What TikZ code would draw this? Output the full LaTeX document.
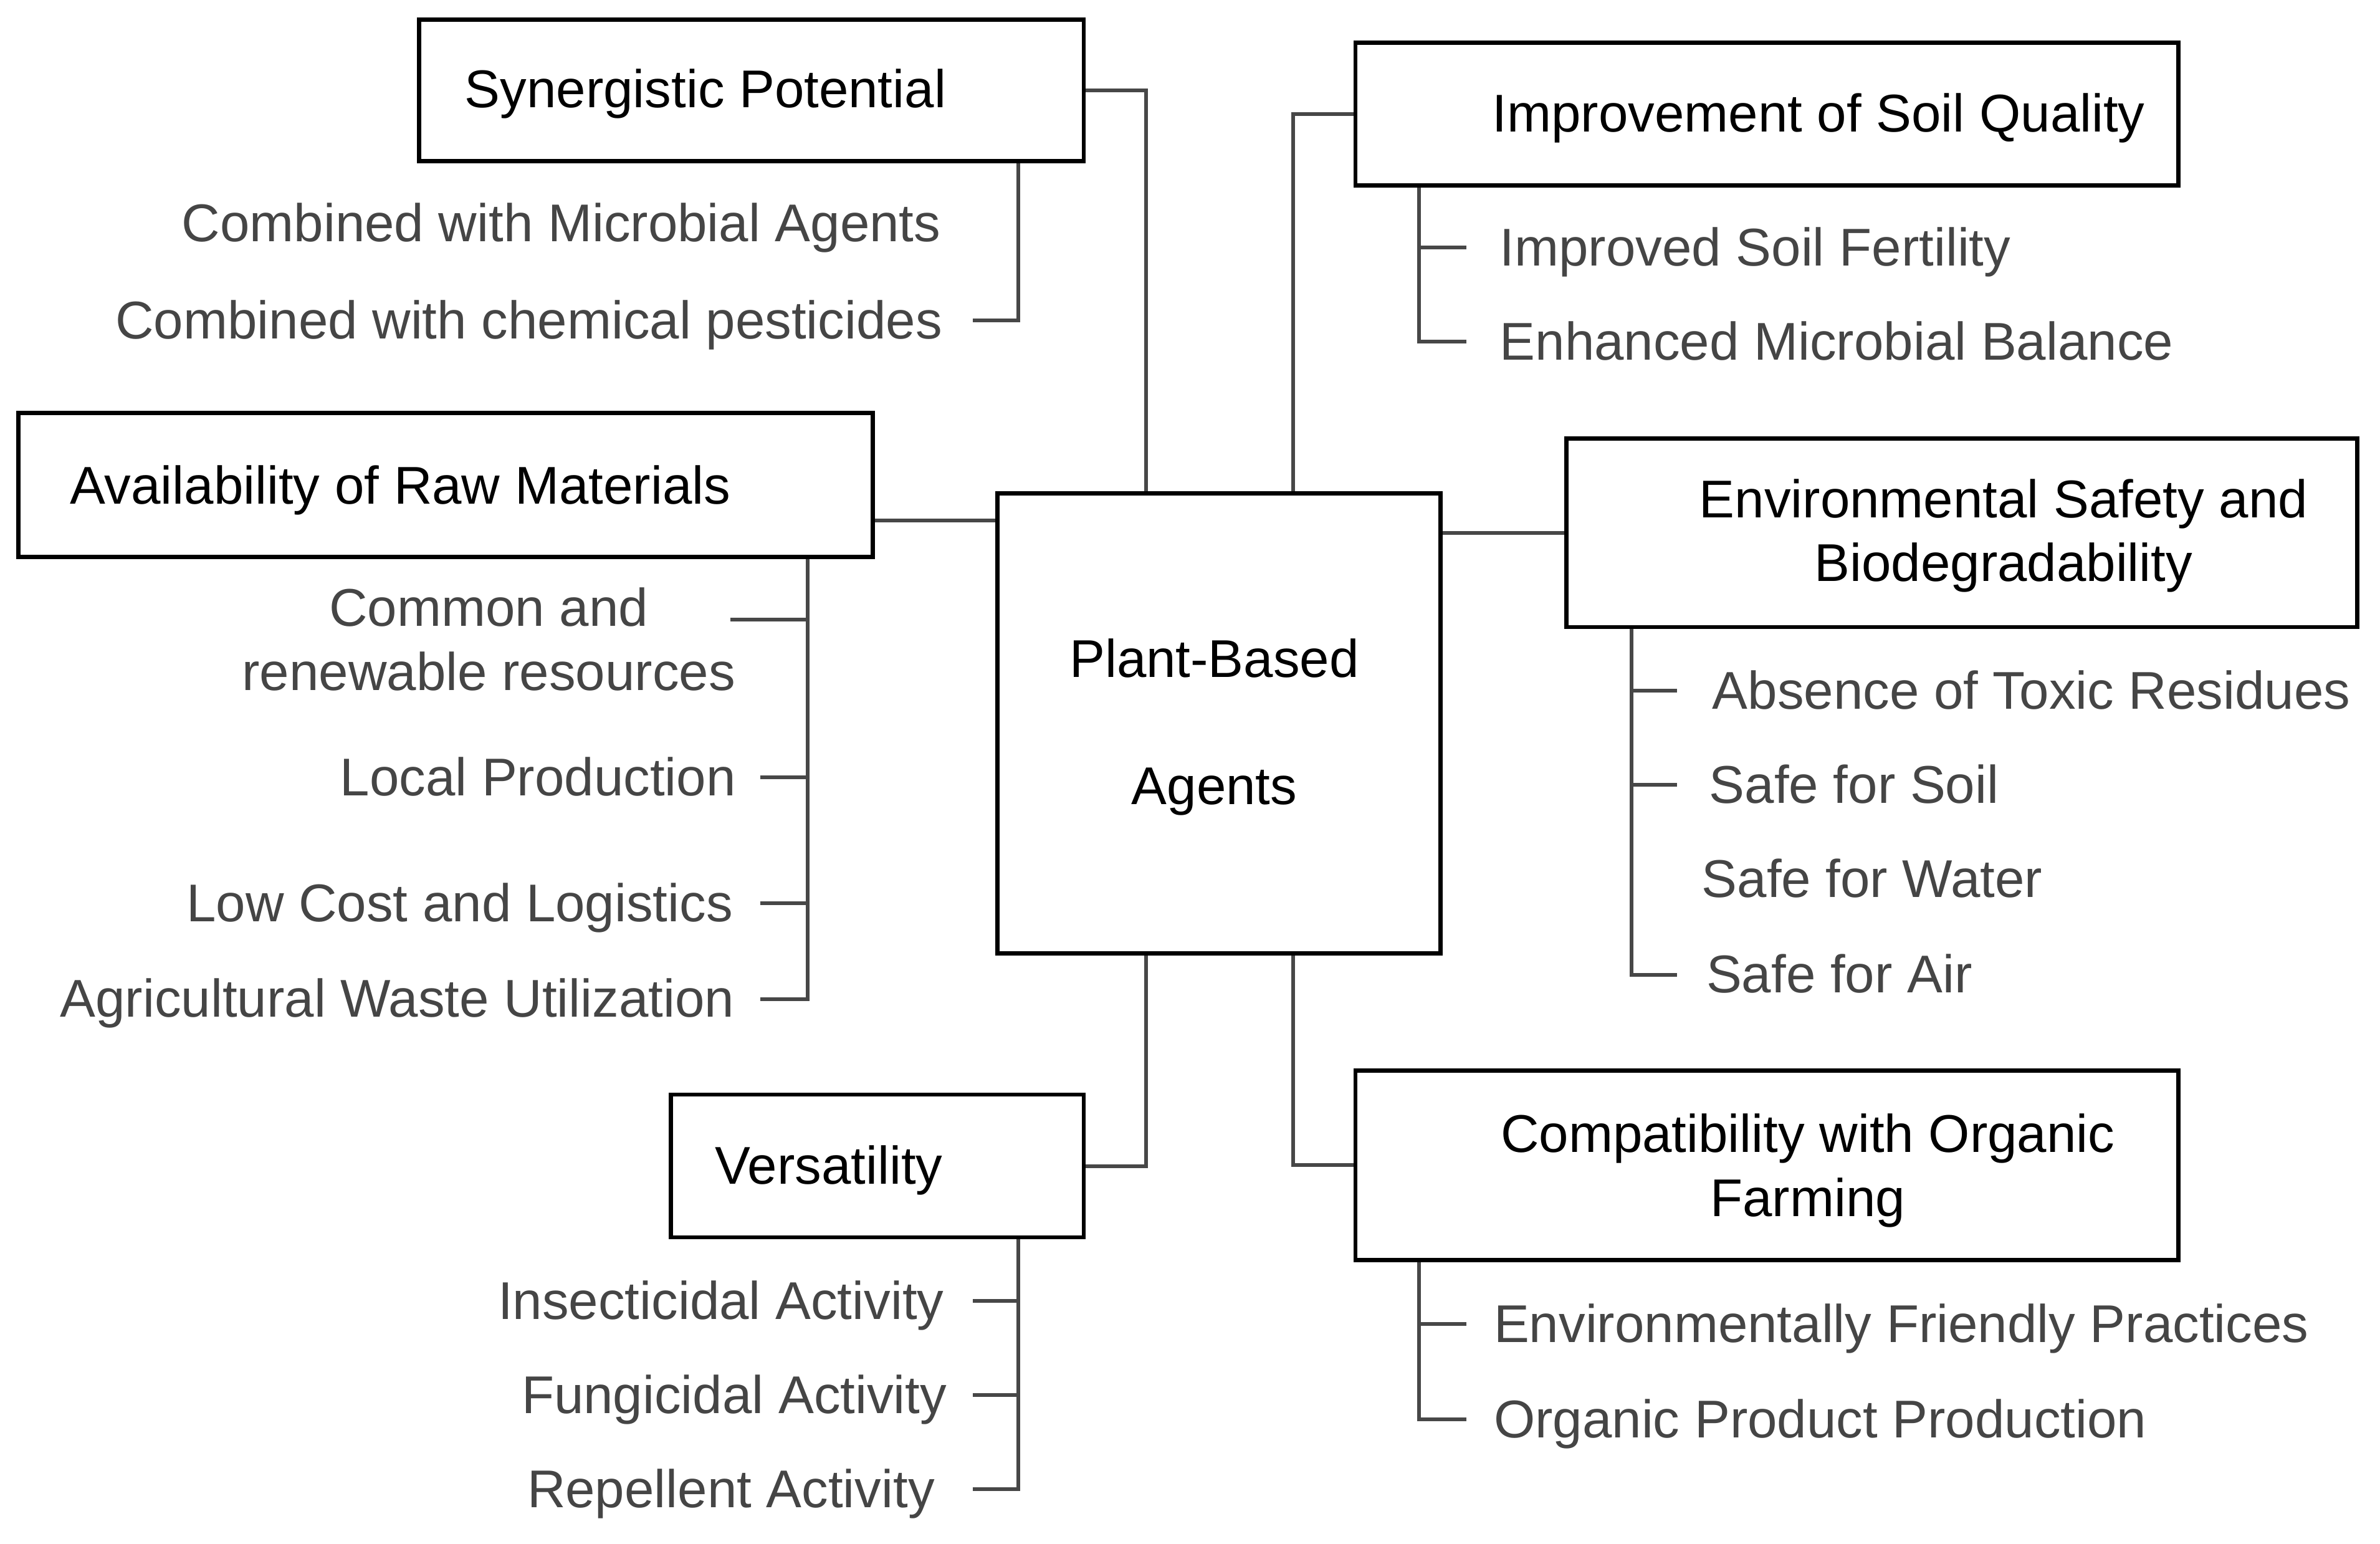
\documentclass[tikz,border=0pt]{standalone}
\usepackage{fontspec}
\setmainfont{Liberation Sans}
\definecolor{itemgray}{HTML}{454545}
\definecolor{linegray}{HTML}{474747}
\begin{document}
\begin{tikzpicture}[x=1pt,y=-1pt,
  box/.style={draw=black, line width=2.8pt, rectangle, inner sep=0pt},
  head/.style={inner sep=0pt, text=black, font=\fontsize{35}{42}\selectfont},
  item/.style={inner sep=0pt, text=itemgray, font=\fontsize{35}{42}\selectfont},
  conn/.style={draw=linegray, line width=2.5pt},
]
\useasboundingbox (0,0) rectangle (1568,1017);
\fill[white] (0,0) rectangle (1568,1017);

% boxes
\node[box, minimum width=292pt, minimum height=303pt] (center) at (803,476.5) {};
\node[box, minimum width=438pt, minimum height=93pt] (syn) at (495,59.5) {};
\node[box, minimum width=542pt, minimum height=94pt] (imp) at (1164,75) {};
\node[box, minimum width=563pt, minimum height=95pt] (avail) at (293.5,319.5) {};
\node[box, minimum width=521pt, minimum height=124pt] (env) at (1292.5,351) {};
\node[box, minimum width=272pt, minimum height=94pt] (vers) at (578,768) {};
\node[box, minimum width=542pt, minimum height=125pt] (comp) at (1164,767.5) {};

% titles
\node[head, align=center, font=\fontsize{35}{84}\selectfont] (centerT) at (800,479) {Plant-Based\\Agents};
\node[head, anchor=base west] (synT) at (306,71) {Synergistic Potential};
\node[head, anchor=base west] (impT) at (983,87) {Improvement of Soil Quality};
\node[head, anchor=base west] (availT) at (46,332) {Availability of Raw Materials};
\node[head, align=center] (envT) at (1320,353) {Environmental Safety and\\Biodegradability};
\node[head, anchor=base west] (versT) at (471,780) {Versatility};
\node[head, align=center] (compT) at (1191,771) {Compatibility with Organic\\Farming};

% items
\node[item, anchor=base east] (i11) at (620,159) {Combined with Microbial Agents};
\node[item, anchor=base east] (i12) at (621,223) {Combined with chemical pesticides};
\node[item, anchor=base west] (i21) at (988,175) {Improved Soil Fertility};
\node[item, anchor=base west] (i22) at (988,237) {Enhanced Microbial Balance};
\node[item, align=center] (i31) at (322,421) {Common and\\renewable resources};
\node[item, anchor=base east] (i32) at (485,524) {Local Production};
\node[item, anchor=base east] (i33) at (483,607) {Low Cost and Logistics};
\node[item, anchor=base east] (i34) at (484,670) {Agricultural Waste Utilization};
\node[item, anchor=base west] (i41) at (1128,467) {Absence of Toxic Residues};
\node[item, anchor=base west] (i42) at (1126,529) {Safe for Soil};
\node[item, anchor=base west] (i43) at (1121,591) {Safe for Water};
\node[item, anchor=base west] (i44) at (1124,654) {Safe for Air};
\node[item, anchor=base east] (i51) at (622,869) {Insecticidal Activity};
\node[item, anchor=base east] (i52) at (624,931) {Fungicidal Activity};
\node[item, anchor=base east] (i53) at (616,993) {Repellent Activity};
\node[item, anchor=base west] (i61) at (984,884) {Environmentally Friendly Practices};
\node[item, anchor=base west] (i62) at (984,947) {Organic Product Production};

% main connectors
\draw[conn] (syn.east) -| ([xshift=-48pt]center.north);
\draw[conn] (imp.west) -| ([xshift=49pt]center.north);
\draw[conn] (avail.east |- 0,343) -- (center.west |- 0,343);
\draw[conn] (center.east |- env.west) -- (env.west);
\draw[conn] (vers.east) -| ([xshift=-48pt]center.south);
\draw[conn] ([xshift=49pt]center.south) |- (comp.west);

% sub connectors
\draw[conn] (syn.south -| 671,0) -- (671,211) -- (641,211);
\draw[conn] (imp.south -| 935,0) -- (935,225) -- (966,225);
\draw[conn] (935,163) -- (966,163);
\draw[conn] (avail.south -| 532,0) -- (532,658) -- (501,658);
\draw[conn] (481,408) -- (532,408);
\draw[conn] (501,512) -- (532,512);
\draw[conn] (501,595) -- (532,595);
\draw[conn] (env.south -| 1075,0) -- (1075,642) -- (1105,642);
\draw[conn] (1075,455) -- (1105,455);
\draw[conn] (1075,517) -- (1105,517);
\draw[conn] (vers.south -| 671,0) -- (671,981) -- (641,981);
\draw[conn] (641,857) -- (671,857);
\draw[conn] (641,919) -- (671,919);
\draw[conn] (comp.south -| 935,0) -- (935,935) -- (966,935);
\draw[conn] (935,872) -- (966,872);
\end{tikzpicture}
\end{document}
